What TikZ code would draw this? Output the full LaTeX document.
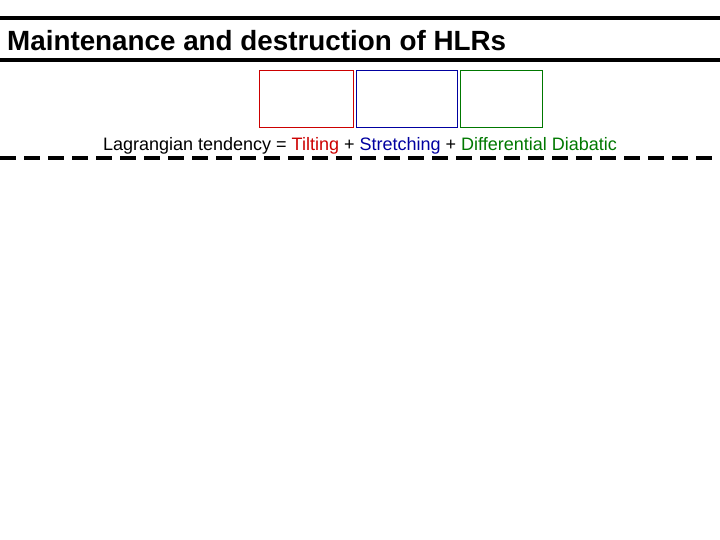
\documentclass[tikz,border=0pt]{standalone}
\usepackage{fontspec}
\setmainfont{Liberation Sans}
\definecolor{tred}{RGB}{204,0,0}
\definecolor{tblue}{RGB}{0,0,160}
\definecolor{tgreen}{RGB}{0,120,0}
\begin{document}
\begin{tikzpicture}[x=1pt,y=-1pt,
  rule/.style={line width=4pt,black},
  termbox/.style={draw,line width=0.6pt,minimum height=57pt,inner sep=0pt}]
\useasboundingbox (0,0) rectangle (720,540);
\draw[rule] (0,18) -- (720,18);
\draw[rule] (0,60) -- (720,60);
\node[anchor=base west,font=\bfseries\fontsize{27.8}{32}\selectfont,inner sep=0pt] (title) at (7,51) {Maintenance and destruction of HLRs};
\node[termbox,draw=tred,minimum width=94pt] (b1) at (306,98.5) {};
\node[termbox,draw=tblue,minimum width=101pt] (b2) at (406.5,98.5) {};
\node[termbox,draw=tgreen,minimum width=82pt] (b3) at (501,98.5) {};
\node[anchor=base,font=\fontsize{18}{21}\selectfont,inner sep=0pt] (eq) at (360,151) {Lagrangian tendency = \textcolor{tred}{Tilting} + \textcolor{tblue}{Stretching} + \textcolor{tgreen}{Differential Diabatic}};
\draw[line width=3.5pt,dash pattern=on 16pt off 8pt] (0,158) -- (720,158);
\end{tikzpicture}
\end{document}
